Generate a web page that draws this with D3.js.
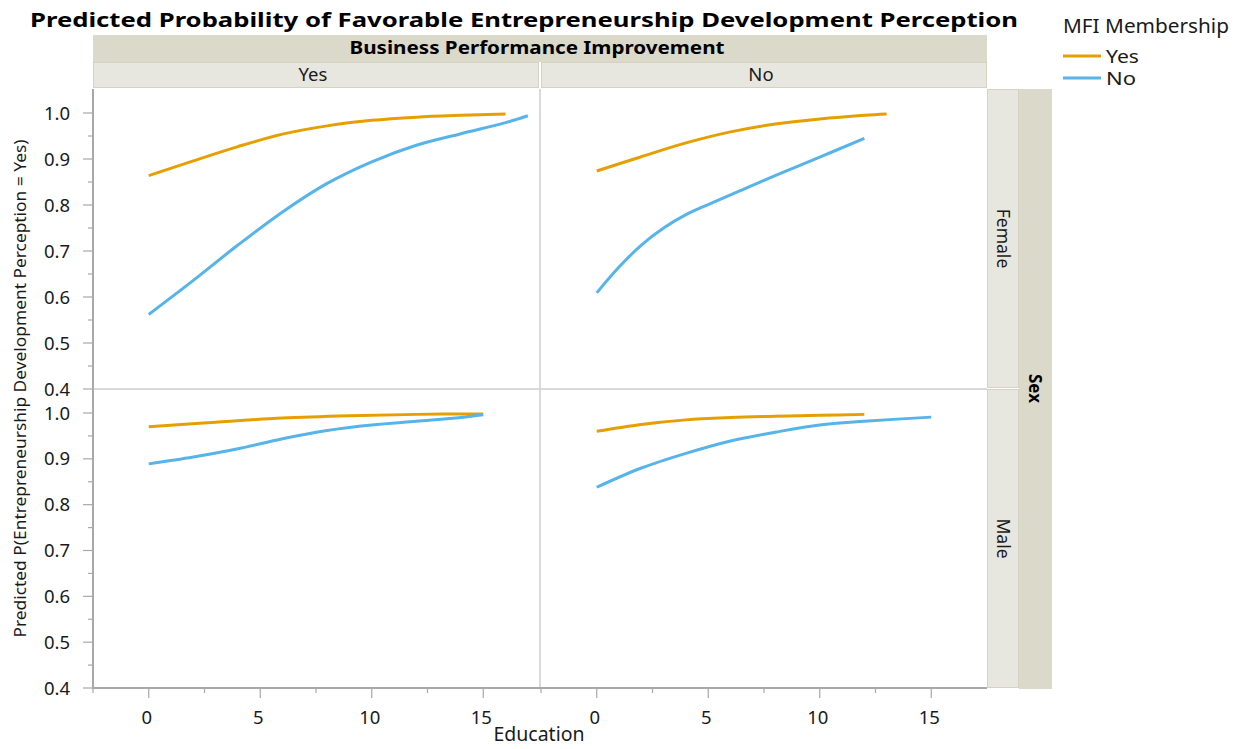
<!DOCTYPE html>
<html>
<head>
<meta charset="utf-8">
<script src="https://cdn.jsdelivr.net/npm/d3@7"></script>
<style>
  body { margin: 0; background: #ffffff; }
  svg { display: block; font-family: "Noto Sans", "Open Sans", sans-serif; }
</style>
</head>
<body>
<svg id="chart" width="1244" height="749"></svg>
<script>
// ---------------- DATA ----------------
const titleText = "Predicted Probability of Favorable Entrepreneurship Development Perception";
const colFacetTitle = "Business Performance Improvement";
const colFacets = ["Yes", "No"];
const rowFacetTitle = "Sex";
const rowFacets = ["Female", "Male"];
const legendTitle = "MFI Membership";
const groups = ["Yes", "No"];
const groupColors = ["#E69F00", "#56B4E9"];
const xTicks = [0, 5, 10, 15];
const yTicks = [0.4, 0.5, 0.6, 0.7, 0.8, 0.9, 1.0];
const xLabel = "Education";
const yLabel = "Predicted P(Entrepreneurship Development Perception = Yes)";

// Female, BPI = Yes
const femBpiYes_mfiYes_edu = [0, 2, 4, 6, 8, 10, 12, 14, 16];
const femBpiYes_mfiYes_p   = [0.864, 0.896, 0.927, 0.954, 0.972, 0.984, 0.991, 0.995, 0.998];
const femBpiYes_mfiNo_edu  = [0, 2, 4, 6, 8, 10, 12, 14, 16, 17];
const femBpiYes_mfiNo_p    = [0.562, 0.636, 0.713, 0.785, 0.847, 0.894, 0.930, 0.955, 0.979, 0.994];
// Female, BPI = No
const femBpiNo_mfiYes_edu  = [0, 2, 4, 6, 8, 10, 12, 13];
const femBpiNo_mfiYes_p    = [0.874, 0.905, 0.935, 0.959, 0.976, 0.987, 0.995, 0.998];
const femBpiNo_mfiNo_edu   = [0, 1, 2, 3, 4, 5, 6, 8, 10, 12];
const femBpiNo_mfiNo_p     = [0.609, 0.665, 0.713, 0.750, 0.779, 0.801, 0.822, 0.864, 0.904, 0.945];
// Male, BPI = Yes
const maleBpiYes_mfiYes_edu = [0, 3, 6, 9, 12, 15];
const maleBpiYes_mfiYes_p   = [0.970, 0.980, 0.989, 0.994, 0.997, 0.998];
const maleBpiYes_mfiNo_edu  = [0, 2, 4, 6, 8, 10, 12, 14, 15];
const maleBpiYes_mfiNo_p    = [0.889, 0.904, 0.922, 0.944, 0.962, 0.974, 0.982, 0.990, 0.996];
// Male, BPI = No
const maleBpiNo_mfiYes_edu  = [0, 2, 4, 6, 8, 10, 12];
const maleBpiNo_mfiYes_p    = [0.960, 0.975, 0.985, 0.990, 0.993, 0.995, 0.997];
const maleBpiNo_mfiNo_edu   = [0, 2, 4, 6, 8, 10, 12, 15];
const maleBpiNo_mfiNo_p     = [0.838, 0.880, 0.912, 0.939, 0.958, 0.974, 0.982, 0.991];

// table built from the arrays: [row][col][group]
const panels = [
  [ // Female
    [[femBpiYes_mfiYes_edu, femBpiYes_mfiYes_p], [femBpiYes_mfiNo_edu, femBpiYes_mfiNo_p]],
    [[femBpiNo_mfiYes_edu, femBpiNo_mfiYes_p],   [femBpiNo_mfiNo_edu, femBpiNo_mfiNo_p]]
  ],
  [ // Male
    [[maleBpiYes_mfiYes_edu, maleBpiYes_mfiYes_p], [maleBpiYes_mfiNo_edu, maleBpiYes_mfiNo_p]],
    [[maleBpiNo_mfiYes_edu, maleBpiNo_mfiYes_p],   [maleBpiNo_mfiNo_edu, maleBpiNo_mfiNo_p]]
  ]
];

// ---------------- LAYOUT ----------------
const svg = d3.select("#chart");
const L = 93, R = 987, T = 89, B = 688;
const colW = 446, colGap = 2;
const colX = [L, L + colW + colGap];
const rowY = [T, 389];
const rowH = 299;
const stripOuter = "#dbd9c9", stripInner = "#e8e7df", stripBorder = "#d4d2c2";
const axisColor = "#a8a8a8", divColor = "#d9d9d9", textColor = "#1a1a1a";

// title
svg.append("text").attr("x", 30).attr("y", 27)
  .attr("font-size", 20).attr("font-weight", "bold").attr("fill", "#000")
  .attr("textLength", 988).attr("lengthAdjust", "spacingAndGlyphs")
  .text(titleText);

// top strips
svg.append("rect").attr("x", L).attr("y", 35).attr("width", R - L).attr("height", 27).attr("fill", stripOuter);
svg.append("text").attr("x", (L + R) / 2 - 3).attr("y", 54).attr("text-anchor", "middle")
  .attr("font-size", 17.5).attr("font-weight", "bold").attr("fill", "#000")
  .attr("textLength", 375).attr("lengthAdjust", "spacingAndGlyphs").text(colFacetTitle);
colFacets.forEach((c, i) => {
  svg.append("rect").attr("x", colX[i] + 0.5).attr("y", 62.5).attr("width", colW - 1).attr("height", 25)
    .attr("fill", stripInner).attr("stroke", stripBorder);
  svg.append("text").attr("x", colX[i] + colW / 2 - 3).attr("y", 81).attr("text-anchor", "middle")
    .attr("font-size", 18.5).attr("fill", textColor).text(c);
});

// right strips
svg.append("rect").attr("x", 1019).attr("y", T).attr("width", 33).attr("height", B - T + 1).attr("fill", stripOuter);
rowFacets.forEach((r, i) => {
  svg.append("rect").attr("x", 987.5).attr("y", rowY[i] + 0.5).attr("width", 31).attr("height", rowH - 1)
    .attr("fill", stripInner).attr("stroke", stripBorder);
  svg.append("text").attr("transform", `translate(${997},${rowY[i] + rowH / 2}) rotate(90)`)
    .attr("text-anchor", "middle").attr("font-size", 17.5).attr("fill", textColor).text(r);
});
svg.append("text").attr("transform", `translate(${1029},${(T + B) / 2}) rotate(90)`)
  .attr("text-anchor", "middle").attr("font-size", 17).attr("font-weight", "bold").attr("fill", "#000").text(rowFacetTitle);

// scales
const xScales = colX.map(x0 => d3.scaleLinear().domain([-2.5, 17.5]).range([x0, x0 + colW]));
const yScales = [
  d3.scaleLinear().domain([0.4, 1.0]).range([389, 113]),
  d3.scaleLinear().domain([0.4, 1.0]).range([688, 413])
];

// plot backgrounds
svg.append("rect").attr("x", L).attr("y", T).attr("width", R - L).attr("height", B - T).attr("fill", "#fff");

// dividers
svg.append("line").attr("x1", colX[1] - 1).attr("x2", colX[1] - 1).attr("y1", T).attr("y2", B)
  .attr("stroke", divColor).attr("stroke-width", 2);
svg.append("line").attr("x1", L).attr("x2", R).attr("y1", rowY[1]).attr("y2", rowY[1])
  .attr("stroke", divColor).attr("stroke-width", 2);

// y axes
rowY.forEach((y0, i) => {
  const ys = yScales[i];
  const g = svg.append("g").attr("transform", `translate(${L},0)`);
  const minor = d3.range(0.45, 1.0001, 0.1);
  g.selectAll(".minor").data(minor).join("line")
    .attr("x1", -5).attr("x2", 0).attr("y1", d => ys(d)).attr("y2", d => ys(d))
    .attr("stroke", axisColor).attr("stroke-width", 1.2);
  g.selectAll(".major").data(yTicks).join("line")
    .attr("x1", -10).attr("x2", 0).attr("y1", d => ys(d)).attr("y2", d => ys(d))
    .attr("stroke", axisColor).attr("stroke-width", 1.2);
  g.selectAll(".lab").data(yTicks).join("text")
    .attr("x", -23).attr("y", d => ys(d)).attr("dy", "0.36em")
    .attr("text-anchor", "end").attr("font-size", 18.5).attr("fill", textColor)
    .text(d => d3.format(".1f")(d));
});
svg.append("line").attr("x1", L).attr("x2", L).attr("y1", T).attr("y2", B + 1)
  .attr("stroke", axisColor).attr("stroke-width", 2);

// x axes
colX.forEach((x0, i) => {
  const xs = xScales[i];
  const g = svg.append("g").attr("transform", `translate(0,${B})`);
  const minor = [-2.5, 2.5, 7.5, 12.5];
  g.selectAll(".minor").data(minor).join("line")
    .attr("x1", d => xs(d)).attr("x2", d => xs(d)).attr("y1", 0).attr("y2", 5)
    .attr("stroke", axisColor).attr("stroke-width", 1.2);
  g.selectAll(".major").data(xTicks).join("line")
    .attr("x1", d => xs(d)).attr("x2", d => xs(d)).attr("y1", 0).attr("y2", 10)
    .attr("stroke", axisColor).attr("stroke-width", 1.2);
  g.selectAll(".lab").data(xTicks).join("text")
    .attr("x", d => xs(d) - 2).attr("y", 36)
    .attr("text-anchor", "middle").attr("font-size", 18.5).attr("fill", textColor)
    .text(d => d);
});
svg.append("line").attr("x1", L).attr("x2", R).attr("y1", B).attr("y2", B)
  .attr("stroke", axisColor).attr("stroke-width", 2);

// axis titles
svg.append("text").attr("x", 539).attr("y", 741).attr("text-anchor", "middle")
  .attr("font-size", 19.5).attr("fill", textColor).text(xLabel);
svg.append("text").attr("transform", `translate(26,${(T + B) / 2}) rotate(-90)`)
  .attr("text-anchor", "middle").attr("font-size", 17).attr("fill", textColor)
  .attr("textLength", 498).attr("lengthAdjust", "spacingAndGlyphs")
  .text(yLabel);

// lines
const line = d3.line().curve(d3.curveCatmullRom.alpha(0.5));
panels.forEach((row, ri) => {
  row.forEach((col, ci) => {
    col.forEach((ser, gi) => {
      const [xs, ps] = ser;
      const pts = xs.map((e, k) => [xScales[ci](e), yScales[ri](ps[k])]);
      svg.append("path").attr("d", line(pts)).attr("fill", "none")
        .attr("stroke", groupColors[gi]).attr("stroke-width", 3);
    });
  });
});

// legend
svg.append("text").attr("x", 1063).attr("y", 33).attr("font-size", 19).attr("fill", textColor)
  .attr("textLength", 166).attr("lengthAdjust", "spacingAndGlyphs").text(legendTitle);
groups.forEach((g, i) => {
  const y = 56 + i * 22;
  svg.append("line").attr("x1", 1063).attr("x2", 1101).attr("y1", y).attr("y2", y)
    .attr("stroke", groupColors[i]).attr("stroke-width", 3);
  svg.append("text").attr("x", 1106).attr("y", y + 6.5).attr("font-size", 17.5).attr("fill", textColor)
    .attr("textLength", i === 0 ? 33 : 30).attr("lengthAdjust", "spacingAndGlyphs").text(g);
});
</script>
</body>
</html>
